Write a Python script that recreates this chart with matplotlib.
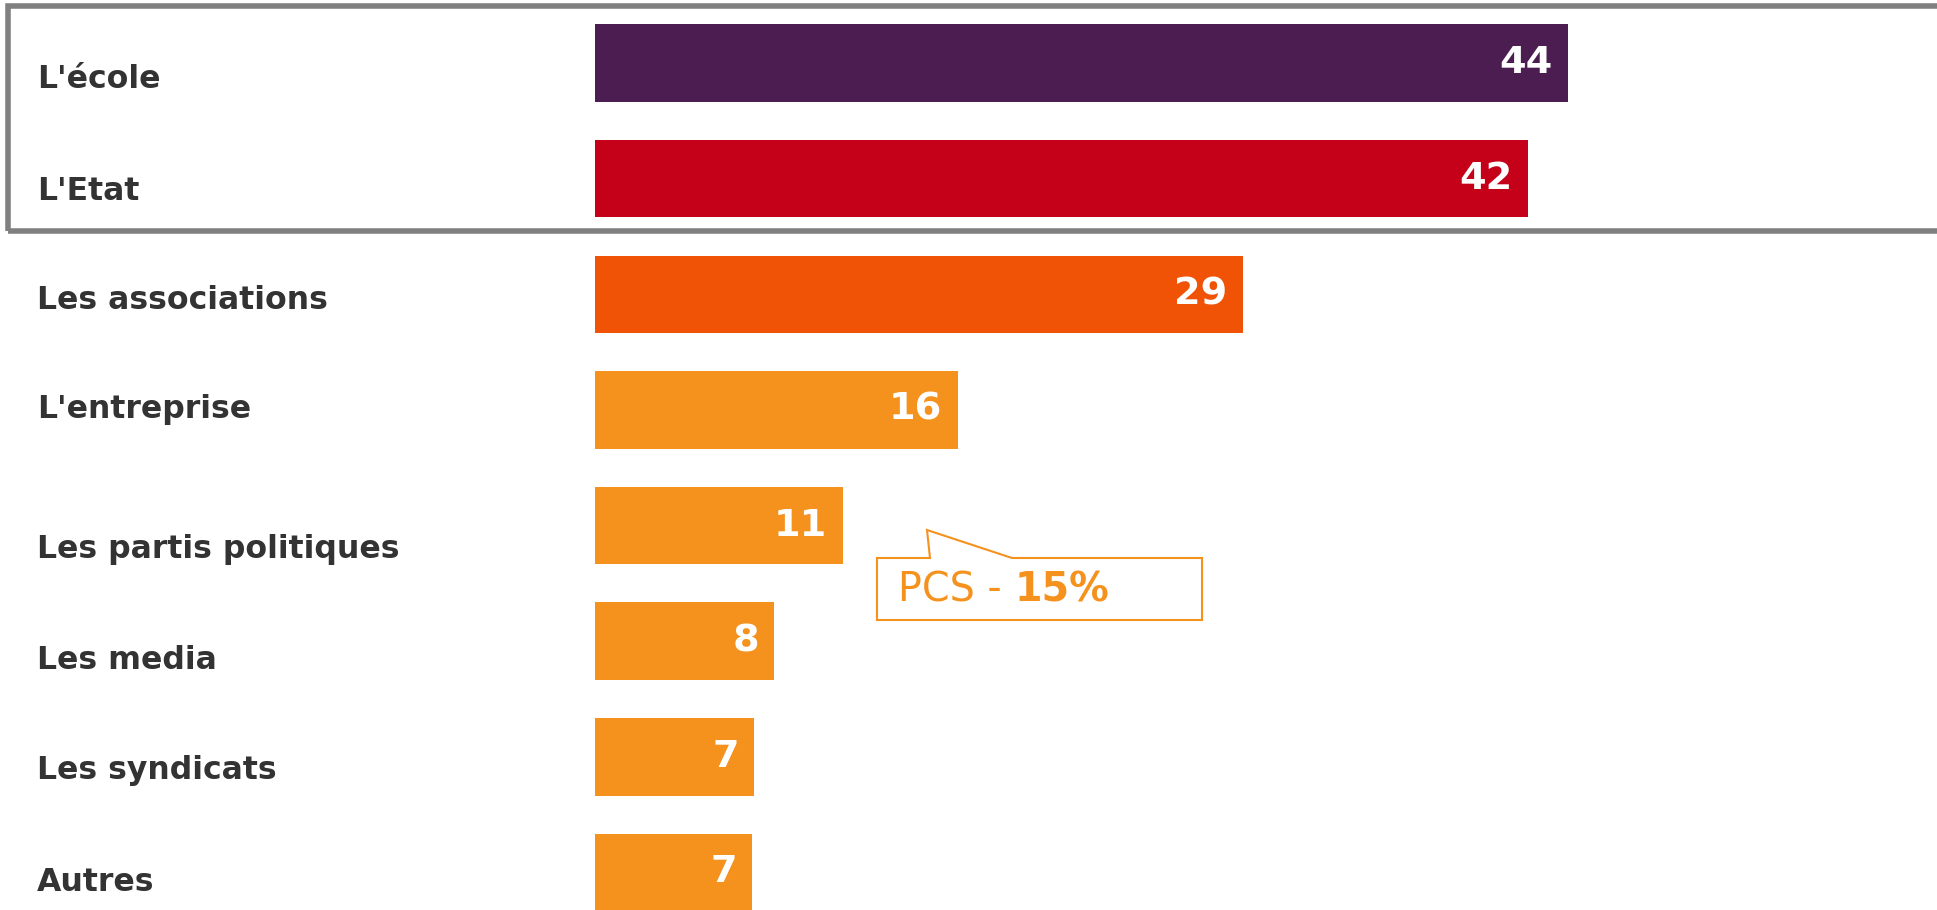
import matplotlib
matplotlib.use("Agg")
import matplotlib.pyplot as plt
from matplotlib.patches import Rectangle, Polygon

categories = ["L'école", "L'Etat", "Les associations", "L'entreprise",
              "Les partis politiques", "Les media", "Les syndicats", "Autres"]
# bar lengths, labels show them rounded
values = [44, 42.2, 29.3, 16.4, 11.2, 8.1, 7.2, 7.1]
colors = ["#4B1D51", "#C50019", "#F05206", "#F5921E",
          "#F5921E", "#F5921E", "#F5921E", "#F5921E"]
# label baseline nudges (in bar units), the labels sit a bit below the bars
label_offsets = [0.14, 0.11, 0.05, 0.0, 0.21, 0.17, 0.12, 0.085]
callout_prefix = "PCS - "
callout_value = "15%"

W, H, DPI = 1937, 910, 100
ORANGE = "#F5921E"

fig = plt.figure(figsize=(W / DPI, H / DPI), dpi=DPI)
fig.patch.set_facecolor("white")

# axes: x=0 at 595px, 22.11 px per unit
px_unit = 22.11
x0 = 595
ax = fig.add_axes([x0 / W, 0, 60 * px_unit / W, 1])
ax.set_xlim(0, 60)
pitch = 115.64
ax.set_ylim(7 + (H - 872.5) / pitch, -63 / pitch)
ax.axis("off")

ypos = list(range(len(categories)))
ax.barh(ypos, values, height=0.67, color=colors)

for y, v in zip(ypos, values):
    ax.annotate(str(round(v)), (v, y), xytext=(-11, 0), textcoords="offset points",
                ha="right", va="center", color="white", fontsize=27.5,
                fontweight="bold")

trans = matplotlib.transforms.blended_transform_factory(fig.transFigure, ax.transData)
for y, lab, off in zip(ypos, categories, label_offsets):
    ax.text(37 / W, y + off, lab, transform=trans, ha="left", va="center",
            fontsize=22.7, fontweight="bold", color="#333333")


def fpx(x, y):
    # pixel (from top-left) to figure fraction
    return (x / W, 1 - y / H)


# grey frame around the two first rows
fx, fy = fpx(8, 230.5)
frame = Rectangle((fx, fy), (W + 20 - 8) / W, (230.5 - 5.5) / H,
                  transform=fig.transFigure, fill=False,
                  edgecolor="#808080", linewidth=4, clip_on=False,
                  joinstyle="miter")
fig.patches.append(frame)

# callout box
pts = [fpx(877, 558), fpx(930, 558), fpx(927, 530), fpx(1012, 558),
       fpx(1202, 558), fpx(1202, 620), fpx(877, 620)]
call = Polygon(pts, closed=True, transform=fig.transFigure, fill=True,
               facecolor="white", edgecolor=ORANGE, linewidth=1.5)
fig.patches.append(call)

tx, ty = fpx(898, 590)
t1 = fig.text(tx, ty, callout_prefix, ha="left", va="center",
              fontsize=28.5, color=ORANGE)
fig.canvas.draw()
bb = t1.get_window_extent(fig.canvas.get_renderer())
fig.text(bb.x1 / W, ty, callout_value, ha="left", va="center",
         fontsize=28.5, fontweight="bold", color=ORANGE)

fig.savefig("out.png", dpi=DPI)
